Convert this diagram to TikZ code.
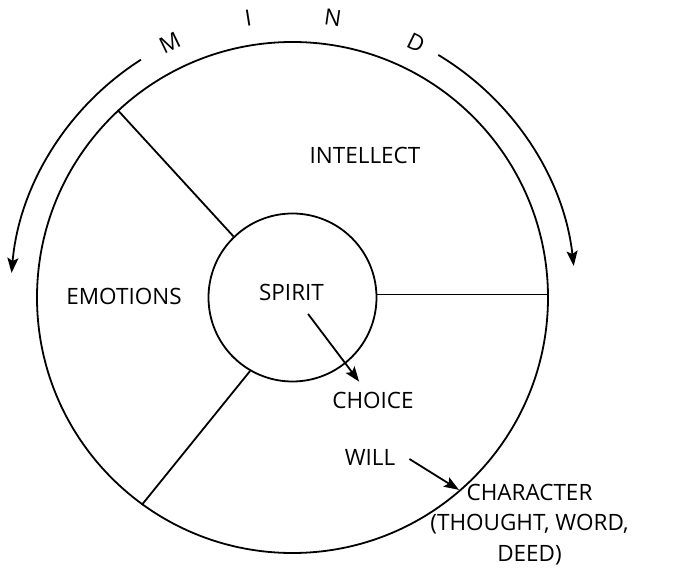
\documentclass[tikz,border=0pt]{standalone}
\usepackage{fontspec}
\setmainfont{Open Sans}
\usetikzlibrary{arrows.meta,positioning,calc}

\begin{document}
\begin{tikzpicture}[
  x=1pt, y=1pt,
  ring/.style={draw, circle, line width=1.8pt, inner sep=0pt},
  lbl/.style={font=\fontsize{22.5}{30.5}\selectfont, inner sep=2pt},
  part/.style={line width=1.8pt},
  arr/.style={-{Stealth[length=15pt, width=11pt, inset=3pt]}, line width=1.8pt},
  letter/.style={font=\fontsize{22.5}{30}\selectfont, inner sep=0pt}
]
\useasboundingbox (-292.5,-269.5) rectangle (386.5,297.5);

% Circles
\node[ring, minimum size=511pt] (mind) at (0,0) {};
\node[ring, minimum size=168pt] (core) at (0,0) {};

% Dividers
\draw[part] (core.134.5) -- (mind.133.7);
\draw[part] (core.2) -- (core.2 -| mind.east);
\draw[part] (core.240) -- (mind.234);

% Labels
\node[lbl] (intellect) at (72.5,142.5) {INTELLECT};
\node[lbl] (emotions) at (-168.5,1.5) {EMOTIONS};
\node[lbl] (spirit) at (-1,5.5) {SPIRIT};
\node[lbl] (choice) at (80.5,-102.5) {CHOICE};
\node[lbl] (will) at (77.5,-159.5) {WILL};
\node[lbl, align=center] (character) at (237,-227)
  {CHARACTER\\(THOUGHT, WORD,\\DEED)};

% Arrows
\draw[arr, shorten <=27.5pt, shorten >=23pt] (spirit.center) -- (choice.center);
\draw[arr] ([xshift=12pt,yshift=-2pt]will.east) -- ([xshift=-70.5pt,yshift=-8pt]character.north);

% Mind arcs
\draw[arr] ([shift={(122.5:282)}]mind.center) arc[start angle=122.5, end angle=175, radius=282];
\draw[arr] ([shift={(59:283)}]mind.center) arc[start angle=59, end angle=6.4, radius=283];
\foreach \ch/\ang in {M/115.7, I/99, N/81.8, D/64.1}
  \node[letter, rotate=\ang-90] (letter\ch) at ([shift={(\ang:283)}]mind.center) {\ch};

\end{tikzpicture}
\end{document}
